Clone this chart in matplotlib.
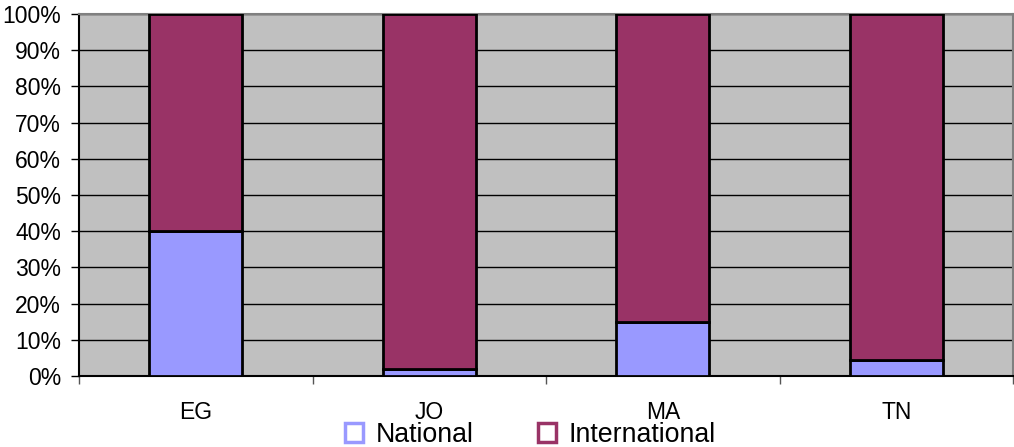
import matplotlib
matplotlib.use("Agg")
import matplotlib.pyplot as plt
from matplotlib.patches import Patch
from matplotlib.ticker import FixedLocator, PercentFormatter
import numpy as np

plt.rcParams['font.family'] = ['Liberation Sans', 'DejaVu Sans']

countries = ["EG", "JO", "MA", "TN"]
national = [40, 2, 15, 4.5]
international = [60, 98, 85, 95.5]
series_names = ["National", "International"]
colors = ["#9999FF", "#993366"]

fig = plt.figure(figsize=(10.14, 4.47), dpi=100)
ax = fig.add_axes([79 / 1014, 71 / 447, 934 / 1014, 362 / 447])
ax.set_facecolor("#C0C0C0")

x = np.arange(len(countries))
w = 0.4
ax.bar(x, national, width=w, color=colors[0], edgecolor="black", linewidth=2, zorder=3)
ax.bar(x, international, width=w, bottom=national, color=colors[1],
       edgecolor="black", linewidth=2, zorder=3)

ax.set_xlim(-0.5, len(countries) - 0.5)
ax.set_ylim(0, 100)

ax.yaxis.set_major_locator(FixedLocator(np.arange(0, 101, 10)))
ax.yaxis.set_major_formatter(PercentFormatter(decimals=0))
ax.grid(axis="y", color="black", linewidth=1.0, zorder=1)
ax.tick_params(axis="y", length=6, width=1, pad=7, labelsize=16.5, colors="black")

ax.set_xticks(x)
ax.set_xticklabels(countries)
ax.tick_params(axis="x", which="major", length=0, pad=18, labelsize=16.5)
ax.xaxis.set_minor_locator(FixedLocator(np.arange(-0.5, len(countries), 1.0)))
ax.tick_params(axis="x", which="minor", length=6, width=1, color="#555555")

for side in ("top", "right"):
    ax.spines[side].set_color("#808080")
    ax.spines[side].set_linewidth(1.5)
for side in ("left", "bottom"):
    ax.spines[side].set_color("black")
    ax.spines[side].set_linewidth(1.5)

handles = [Patch(facecolor="none", edgecolor=c, linewidth=2.5) for c in colors]
fig.legend(handles, series_names, loc="center", bbox_to_anchor=(530 / 1014, 0.027),
           ncol=2, frameon=False, fontsize=19.3, handlelength=0.7, handleheight=0.7,
           handletextpad=0.45, columnspacing=2.4, borderpad=0)

fig.savefig("out.png", dpi=100)
